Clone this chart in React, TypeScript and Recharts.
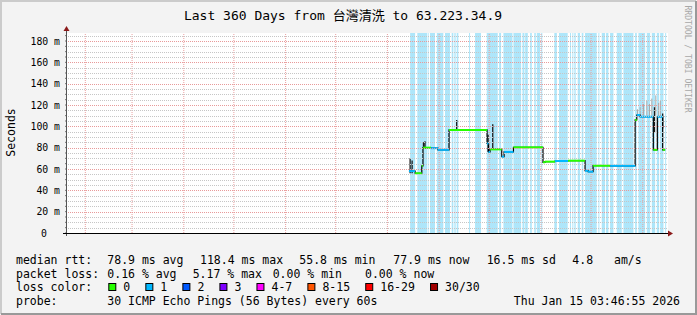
import React from "react";
import {
  ComposedChart,
  Line,
  XAxis,
  YAxis,
  ReferenceArea,
  ReferenceLine,
} from "recharts";

// x values are days counted from Jan 1 2025 (Jan 1 2026 = 365)
const monthStarts = [31, 59, 90, 120, 151, 181, 212, 243, 273, 304, 334, 365];
const monthLabels = ["Feb", "Mar", "Apr", "May", "Jun", "Jul", "Aug", "Sep", "Oct", "Nov", "Dec"];
const yTicks = [0, 20, 40, 60, 80, 100, 120, 140, 160, 180];
const xDomain = [20.03, 380.1];

// light blue columns
const bandStart = [
  225.6, 229.9, 236.5, 237.5, 241.6, 246.5, 250.5, 252.1, 253.5, 260.9, 264.5, 271.5,
  278.9, 281.5, 287.5, 292.9, 294.5, 297.5, 300.0, 301.5, 304.1, 312.0, 314.8, 321.4,
  322.8, 324.0, 326.0, 328.4, 330.4, 338.4, 340.4, 343.0, 345.4, 349.4, 353.4, 360.4,
  362.4, 367.4, 370.4, 373.4, 375.4, 378.4,
];
const bandEnd = [
  228.6, 235.9, 236.9, 240.5, 245.5, 249.5, 251.5, 252.9, 254.5, 261.5, 268.1, 278.1,
  280.1, 286.9, 292.1, 294.1, 296.1, 298.5, 300.9, 303.5, 304.8, 313.5, 320.0, 322.0,
  323.4, 324.8, 327.4, 329.4, 337.4, 339.0, 342.4, 344.4, 347.4, 352.4, 359.4, 361.4,
  366.4, 369.4, 372.4, 374.8, 377.4, 379.0,
];

// median rtt (ms), step starts, with loss count for the colour
const medianDay = [
  224.9, 228.6, 232.6, 233.3, 238.1, 242.3, 248.9, 271.7, 272.6, 273.5, 280.5, 281.9,
  287.5, 305.2, 306.4, 312.4, 320.2, 330.4, 332.2, 335.2, 345.4, 360.4, 361.4, 363.4,
  371.3, 373.7, 376.9,
];
const medianMs = [
  58, 56, 63, 80, 79.5, 78, 96.6, 84, 76, 78.4, 71.6, 76,
  80.3, 66.3, 66.9, 67.5, 67.8, 58.4, 57.5, 63.1, 63, 106, 110.6, 109,
  78, 109, 78,
];
const medianLoss = [
  1, 0, 0, 0, 1, 1, 0, 1, 1, 0, 1, 1,
  0, 0, 0, 1, 0, 1, 1, 0, 1, 0, 1, 1,
  0, 1, 0,
];
const lastDay = 378.4;

// smoke spikes
const smokeDay = [225.6, 226.8, 233.6, 234.5, 253.5, 272.3, 275.1, 361.8, 363.4, 365.4, 367.4, 369.0, 370.4, 372.0, 372.8, 374.5, 375.5, 376.9];
const smokeLow = [56, 56, 79, 79, 96, 76, 78, 110, 110, 110, 110, 110, 110, 94, 110, 109, 109, 98];
const smokeHigh = [70, 68, 85, 86, 106, 92, 102, 116, 118, 121, 124, 121, 126, 118, 129, 122, 124, 112];
const smokeDark = [1, 1, 1, 1, 1, 1, 1, 0, 0, 0, 0, 0, 0, 1, 0, 0, 0, 1];

const lossLabels = ["0", "1", "2", "3", "4-7", "8-15", "16-29", "30/30"];
const lossColors = ["#26ff00", "#00b8ff", "#0059ff", "#7e00ff", "#ff00ff", "#ff5500", "#ff0000", "#a10000"];

const MONO = "'DejaVu Sans Mono', 'Noto Sans CJK TC', monospace";
const W = 697;
const H = 315;
const PLOT_L = 67;
const PLOT_R = 668;
const TOP = 600;

// grid every 5 ms, labelled every 20 ms
const gridTicks: number[] = [];
for (let v = 0; v < 188; v += 5) gridTicks.push(v);

function YTick(props: any) {
  const { y, payload } = props;
  const v = payload.value;
  const major = yTicks.includes(v);
  const gy = Math.round(y);
  return (
    <g>
      {v > 0 && (
        <rect
          x={PLOT_L}
          y={gy}
          width={PLOT_R - PLOT_L}
          height={1}
          fill={major ? "url(#dotMajor)" : "url(#dotMinor)"}
        />
      )}
      {major && (
        <text x={v === 0 ? 47 : 60} y={y + 3.5} textAnchor="end" fontFamily={MONO} fontSize={9.8} fill="#000">
          {v === 0 ? "0" : `${v} m`}
        </text>
      )}
    </g>
  );
}

function XTick(props: any) {
  const { x, payload } = props;
  const i = monthStarts.indexOf(payload.value - 15);
  return (
    <text x={x} y={246} textAnchor="middle" fontFamily={MONO} fontSize={9.8} fill="#000">
      {monthLabels[i]}
    </text>
  );
}

export default function App() {
  const stepData = medianDay.map((d, i) => ({ d, v: medianMs[i] }));
  stepData.push({ d: lastDay, v: medianMs[medianMs.length - 1] });

  const smokeData: { d: number; v: number | null }[] = [];
  const smokeDataLight: { d: number; v: number | null }[] = [];
  smokeDay.forEach((d, i) => {
    const target = smokeDark[i] ? smokeData : smokeDataLight;
    target.push({ d, v: smokeLow[i] }, { d, v: smokeHigh[i] }, { d, v: null });
  });

  const row1: [number, string][] = [
    [16, "median rtt:"], [107.3, "78.9 ms avg"], [200, "118.4 ms max"], [299.3, "55.8 ms min"],
    [393.3, "77.9 ms now"], [486.7, "16.5 ms sd"], [572.3, "4.8"], [614, "am/s"],
  ];
  const row2: [number, string][] = [
    [16, "packet loss:"], [107.3, "0.16 % avg"], [192.7, "5.17 % max"], [272.7, "0.00 % min"], [365, "0.00 % now"],
  ];

  const boxes: { x: number; label: string; color: string }[] = [];
  let bx = 108.3;
  lossLabels.forEach((label, i) => {
    boxes.push({ x: bx, label, color: lossColors[i] });
    bx += 15 + label.length * 6.94 + 15.1;
  });

  return (
    <div style={{ position: "relative", width: W, height: H, background: "#f3f3f3", overflow: "hidden" }}>
      <style>{"body{margin:0}"}</style>
      <div style={{ position: "absolute", left: PLOT_L, top: 33, width: PLOT_R - PLOT_L, height: 200, background: "#ffffff" }} />
      <div style={{ position: "absolute", left: 0, top: 0 }}>
        <ComposedChart width={W} height={H} margin={{ top: 33, right: W - PLOT_R, bottom: 82, left: 0 }}>
          <defs>
            <pattern id="dotMajor" x={0} y={0} width={2} height={1} patternUnits="userSpaceOnUse">
              <rect x={0} y={0} width={1} height={1} fill="#e89a9a" />
            </pattern>
            <pattern id="dotMinor" x={0} y={0} width={2} height={1} patternUnits="userSpaceOnUse">
              <rect x={0} y={0} width={1} height={1} fill="#c6c6c6" />
            </pattern>
          </defs>
          <XAxis
            dataKey="d"
            type="number"
            domain={xDomain}
            allowDataOverflow
            ticks={monthStarts.slice(0, 11).map((m) => m + 15)}
            tick={<XTick />}
            axisLine={false}
            tickLine={false}
            height={0}
          />
          <YAxis
            type="number"
            domain={[0, 187.5]}
            allowDataOverflow
            ticks={gridTicks}
            interval={0}
            tick={<YTick />}
            axisLine={false}
            tickLine={{ stroke: "#777" }}
            tickSize={2}
            width={PLOT_L}
          />
          {bandStart.map((s, i) => (
            <ReferenceArea key={"b" + i} x1={s} x2={bandEnd[i]} fill="#aee6fa" fillOpacity={1} stroke="none" />
          ))}
          {monthStarts.map((m) => (
            <ReferenceLine key={"xg" + m} x={m} stroke="#eaa0a0" strokeDasharray="1 1" />
          ))}
          <Line data={smokeDataLight} dataKey="v" stroke="#a8a8a8" strokeWidth={1} dot={false} isAnimationActive={false} zIndex={TOP} />
          <Line data={smokeData} dataKey="v" stroke="#1a1a1a" strokeWidth={1.3} dot={false} isAnimationActive={false} zIndex={TOP} />
          <Line data={stepData} dataKey="v" type="stepAfter" stroke="#000" strokeWidth={1.2} dot={false} isAnimationActive={false} zIndex={TOP} />
          {medianDay.map((d, i) => {
            const end = i < medianDay.length - 1 ? medianDay[i + 1] : lastDay;
            return (
              <Line
                key={"m" + i}
                data={[{ d, v: medianMs[i] }, { d: end, v: medianMs[i] }]}
                dataKey="v"
                stroke={lossColors[medianLoss[i]]}
                strokeWidth={2}
                dot={false}
                isAnimationActive={false}
                zIndex={TOP}
              />
            );
          })}
        </ComposedChart>
      </div>
      <svg width={W} height={H} style={{ position: "absolute", left: 0, top: 0, pointerEvents: "none" }}>
        {/* frame */}
        <path d="M1,314 L1,1 L696,1" stroke="#cbcbcb" strokeWidth={2} fill="none" />
        <path d="M1,314 L696,314 L696,1" stroke="#999999" strokeWidth={2} fill="none" />
        {/* axes */}
        <line x1={66.5} y1={30} x2={66.5} y2={236} stroke="#555" strokeWidth={1} />
        <line x1={63} y1={233.5} x2={669} y2={233.5} stroke="#000" strokeWidth={1} />
        <path d="M66.5,26 L63.5,31 L69.5,31 Z" fill="#8b1a1a" />
        <path d="M673,233.5 L668,230.5 L668,236.5 Z" fill="#8b1a1a" />
        {/* titles */}
        <text x={343} y={19.5} textAnchor="middle" fontFamily={MONO} fontSize={13} fill="#000">
          Last 360 Days from 台灣清洗 to 63.223.34.9
        </text>
        <text
          x={10.5}
          y={132.5}
          transform="rotate(-90 10.5 132.5)"
          textAnchor="middle"
          dominantBaseline="central"
          fontFamily={MONO}
          fontSize={11.5}
          fill="#000"
        >
          Seconds
        </text>
        <text
          x={688}
          y={59}
          transform="rotate(90 688 59)"
          textAnchor="middle"
          dominantBaseline="central"
          fontFamily={MONO}
          fontSize={8.1}
          fill="#a8a8a8"
        >
          RRDTOOL / TOBI OETIKER
        </text>
        {/* legend */}
        <g fontFamily={MONO} fontSize={11.5} fill="#000" style={{ whiteSpace: "pre" }}>
          {row1.map(([x, t]) => (
            <text key={"r1" + x} x={x} y={263.5}>{t}</text>
          ))}
          {row2.map(([x, t]) => (
            <text key={"r2" + x} x={x} y={277.5}>{t}</text>
          ))}
          <text x={16} y={291}>loss color:</text>
          {boxes.map((b) => (
            <g key={"lb" + b.label}>
              <rect x={b.x + 0.5} y={283.5} width={7} height={7} fill={b.color} stroke="#000" strokeWidth={1} />
              <text x={b.x + 15} y={291}>{b.label}</text>
            </g>
          ))}
          <text x={16} y={305}>probe:</text>
          <text x={107.3} y={305}>30 ICMP Echo Pings (56 Bytes) every 60s</text>
          <text x={680} y={305} textAnchor="end">Thu Jan 15 03:46:55 2026</text>
        </g>
      </svg>
    </div>
  );
}
